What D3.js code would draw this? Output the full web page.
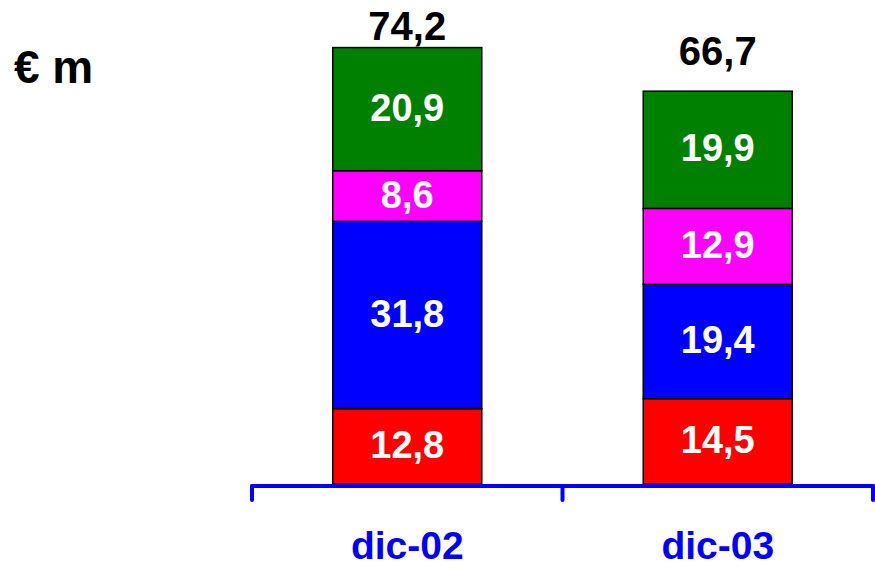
<!DOCTYPE html>
<html><head><meta charset="utf-8">
<script src="https://cdn.jsdelivr.net/npm/d3@7"></script>
<style>body{margin:0;background:#fff}svg{display:block}</style>
</head><body>
<script>
const categories = ["dic-02", "dic-03"];
const seriesNames = ["A", "B", "C", "D"];
const seriesA = [12.8, 14.5];
const seriesB = [31.8, 19.4];
const seriesC = [8.6, 12.9];
const seriesD = [20.9, 19.9];
const totals = [74.2, 66.7];
const colors = ["#ff0000", "#0000ff", "#ff00ff", "#008000"];
const unitLabel = "€ m";

const W = 875, H = 568;
const FONT = "Liberation Sans, Arial, sans-serif";
const svg = d3.select("body").append("svg").attr("width", W).attr("height", H);
const fmt = v => d3.format(".1f")(v).replace(".", ",");

const x = d3.scaleBand().domain(categories).range([252, 873]).paddingInner(0.52).paddingOuter(0.26);
const y = d3.scaleLinear().domain([0, 74.2]).range([484, 47]);

const data = categories.map((c, i) => ({cat: c, A: seriesA[i], B: seriesB[i], C: seriesC[i], D: seriesD[i]}));
const stack = d3.stack().keys(seriesNames)(data);

const g = svg.append("g");
stack.forEach((layer, li) => {
  layer.forEach(d => {
    g.append("rect")
      .attr("x", x(d.data.cat))
      .attr("y", y(d[1]))
      .attr("width", x.bandwidth())
      .attr("height", y(d[0]) - y(d[1]))
      .attr("fill", colors[li])
      .attr("stroke", "#000").attr("stroke-width", 1.5);
    g.append("text")
      .attr("x", x(d.data.cat) + x.bandwidth() / 2)
      .attr("y", (y(d[0]) + y(d[1])) / 2 - 2)
      .attr("dy", "0.36em")
      .attr("text-anchor", "middle")
      .attr("fill", "#fff")
      .attr("font-family", FONT)
      .attr("font-weight", "bold")
      .attr("font-size", 38)
      .text(fmt(d.data[layer.key]));
  });
});

categories.forEach((c, i) => {
  svg.append("text")
    .attr("x", x(c) + x.bandwidth() / 2)
    .attr("y", Math.max(y(totals[i]) - 26, 40))
    .attr("text-anchor", "middle")
    .attr("fill", "#000")
    .attr("font-family", FONT)
    .attr("font-weight", "bold")
    .attr("font-size", 40)
    .text(fmt(totals[i]));
});

// axis
const axisY = 486;
const ax = svg.append("g").attr("stroke", "#0000ff").attr("stroke-width", 4).attr("stroke-linecap", "round");
ax.append("line").attr("x1", 252).attr("x2", 873).attr("y1", axisY).attr("y2", axisY);
const tickX = [252, 873];
categories.forEach((c, i) => { if (i > 0) tickX.push((x(categories[i-1]) + x.bandwidth() + x(c)) / 2); });
tickX.forEach(t => ax.append("line").attr("x1", t).attr("x2", t).attr("y1", axisY).attr("y2", 500));

categories.forEach(c => {
  svg.append("text")
    .attr("x", x(c) + x.bandwidth() / 2)
    .attr("y", 559)
    .attr("text-anchor", "middle")
    .attr("fill", "#0000ff")
    .attr("font-family", FONT)
    .attr("font-weight", "bold")
    .attr("font-size", 39)
    .text(c);
});

svg.append("text")
  .attr("x", 14).attr("y", 83)
  .attr("fill", "#000")
  .attr("font-family", FONT)
  .attr("font-weight", "bold")
  .attr("font-size", 46)
  .text(unitLabel);
</script>
</body></html>
